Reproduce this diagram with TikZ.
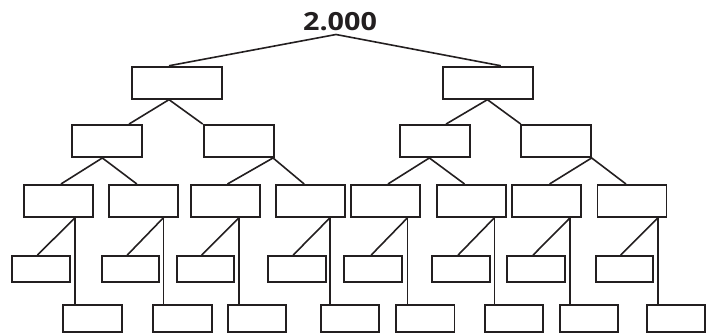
\documentclass[tikz,border=0pt]{standalone}
\usepackage{fontspec}
\setmainfont{Open Sans}
\usetikzlibrary{calc}
\definecolor{ink}{HTML}{231F20}
\tikzset{
  box/.style={draw=ink, line width=1.9pt, fill=white, inner sep=0pt, minimum width=#1},
  lone/.style={box=90.5pt, minimum height=32pt},
  ltwo/.style={box=70pt, minimum height=32pt},
  lthree/.style={box=69pt, minimum height=31.7pt},
  lfour/.style={box=57.8pt, minimum height=26.3pt},
  lfive/.style={box=58.3pt, minimum height=27.3pt},
  link/.style={draw=ink, line width=1.6pt},
  title/.style={font=\bfseries\fontsize{25}{25}\selectfont, text=ink, inner sep=0pt}
}
\begin{document}
\begin{tikzpicture}[x=1pt,y=-1pt]
\useasboundingbox (0,0) rectangle (708,334);
% title
\node[title, xscale=1.15] (t) at (340,21.7) {2.000};
\coordinate (apex) at (336,34.5);
% level 1
\node[lone] (A) at (176.9,82.7) {};
\node[lone] (B) at (488,82.7) {};
% level 2
\node[ltwo] (C1) at (106.7,141) {};
\node[ltwo] (C2) at (238.7,141) {};
\node[ltwo] (C3) at (435.3,141) {};
\node[ltwo] (C4) at (555.7,141) {};
% level 3
\node[lthree] (D1) at (58.7,200.8) {};
\node[lthree] (D2) at (143.3,200.8) {};
\node[lthree] (D3) at (225.3,200.8) {};
\node[lthree] (D4) at (310.3,200.8) {};
\node[lthree] (D5) at (385.8,200.8) {};
\node[lthree] (D6) at (471.3,200.8) {};
\node[lthree] (D7) at (546.7,200.8) {};
\node[lthree] (D8) at (632,200.8) {};
% level 4
\node[lfour] (E1) at (41.2,269.2) {};
\node[lfour] (E2) at (130.5,269.2) {};
\node[lfour] (E3) at (205.5,269.2) {};
\node[lfour] (E4) at (297,269.2) {};
\node[lfour] (E5) at (373.3,269.2) {};
\node[lfour] (E6) at (461.3,269.2) {};
\node[lfour] (E7) at (536.2,269.2) {};
\node[lfour] (E8) at (624.5,269.2) {};
% level 5
\node[lfive] (F1) at (92.5,318.7) {};
\node[lfive] (F2) at (182.5,318.7) {};
\node[lfive] (F3) at (257.2,318.7) {};
\node[lfive] (F4) at (349.8,318.7) {};
\node[lfive] (F5) at (425.3,318.7) {};
\node[lfive] (F6) at (514.2,318.7) {};
\node[lfive] (F7) at (588.8,318.7) {};
\node[lfive] (F8) at (676.2,318.7) {};
% connectors: apex to level 1
\draw[link] ([xshift=38.3pt]A.north west) -- (apex) -- ([xshift=59pt]B.north west);
% level 1 to level 2
\draw[link] ([xshift=58.3pt]C1.north west) -- ([xshift=38.3pt]A.south west) -- (C2.north west);
\draw[link] ([xshift=46.7pt]C3.north west) -- ([xshift=45.6pt]B.south west) -- ([xshift=1pt]C4.north west);
% level 2 to level 3
\draw[link] ([xshift=37.7pt]D1.north west) -- ([xshift=31.6pt]C1.south west) -- ([xshift=29pt]D2.north west);
\draw[link] ([xshift=37.6pt]D3.north west) -- ([xshift=-1.6pt]C2.south east) -- ([xshift=29.3pt]D4.north west);
\draw[link] ([xshift=37.6pt]D5.north west) -- ([xshift=30pt]C3.south west) -- ([xshift=28.7pt]D6.north west);
\draw[link] ([xshift=38.3pt]D7.north west) -- (C4.south east) -- ([xshift=29.4pt]D8.north west);
% level 3 to levels 4 and 5
\foreach \d/\v/\e in {1/52/26, 2/55.7/26.6, 3/49.3/26, 4/55.3/26, 5/57.3/27.7, 6/58.7/26.6, 7/59/26.7, 8/61.7/26}{
  \draw[link] ([xshift=\e pt]E\d.north west) -- ([xshift=\v pt]D\d.south west) coordinate (j\d);
  \draw[link] (j\d) -- (j\d |- F\d.north);
}
\end{tikzpicture}
\end{document}
